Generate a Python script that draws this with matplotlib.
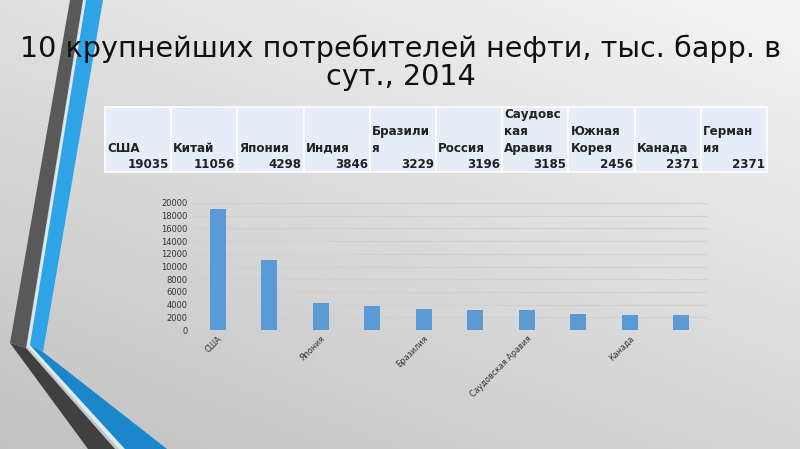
import matplotlib.pyplot as plt
import matplotlib.patches as mpatches
import numpy as np

# data
countries = ['США', 'Китай', 'Япония', 'Индия', 'Бразилия', 'Россия',
             'Саудовская Аравия', 'Южная Корея', 'Канада', 'Германия']
values = [19035, 11056, 4298, 3846, 3229, 3196, 3185, 2456, 2371, 2371]
# how the names wrap inside the table header cells
table_labels = ['США', 'Китай', 'Япония', 'Индия', 'Бразили\nя', 'Россия',
                'Саудовс\nкая\nАравия', 'Южная\nКорея', 'Канада', 'Герман\nия']
yticks = list(range(0, 20001, 2000))
title = '10 крупнейших потребителей нефти, тыс. барр. в\nсут., 2014'

W, H = 800, 449
fig = plt.figure(figsize=(W / 100, H / 100), dpi=100)

# slide background, pixel coordinates (y down)
bg = fig.add_axes([0, 0, 1, 1])
bg.set_xlim(0, W)
bg.set_ylim(H, 0)
bg.axis('off')
xx, yy = np.meshgrid(np.linspace(0, 1, 200), np.linspace(0, 1, 120))
shade = 0.76 + 0.08 * xx + 0.12 * (1 - yy)
img = np.dstack([shade, shade, shade * 1.005])
bg.imshow(np.clip(img, 0, 1), extent=[0, W, H, 0], aspect='auto', zorder=0)

# decorative bands on the left
shapes = [
    ([(70, 0), (83, 0), (26, 348), (10, 343)], '#595959'),
    ([(10, 343), (26, 348), (115, 449), (88, 449)], '#404040'),
    ([(84, 0), (86, 0), (30, 345), (27, 346)], '#d8ecf6'),
    ([(86, 0), (103, 0), (43, 352), (30, 345)], '#2ea3e6'),
    ([(27, 346), (30, 345), (125, 449), (119, 449)], '#dcecf4'),
    ([(30, 345), (43, 352), (167, 449), (125, 449)], '#1b87cb'),
]
for pts, col in shapes:
    bg.add_patch(mpatches.Polygon(pts, closed=True, color=col, lw=0, zorder=1))

bg.text(401, 85, title, ha='center', va='baseline', fontsize=20.6,
        color='#111111', linespacing=1.0, zorder=3)

# table above the chart
x0, cw = 105, 66.2
for i in range(len(countries)):
    cx = x0 + i * cw
    bg.add_patch(mpatches.Rectangle((cx, 107), cw, 65, facecolor='#e5edf8',
                                    edgecolor='white', lw=1.2, zorder=2))
    bg.text(cx + 2, 155, table_labels[i], ha='left', va='bottom', fontsize=8.6,
            fontweight='bold', color='#222222', linespacing=1.4, zorder=3)
    bg.text(cx + cw - 2, 164, str(values[i]), ha='right', va='center',
            fontsize=8.6, fontweight='bold', color='#222222', zorder=3)

# bar chart
ax = fig.add_axes([192 / W, 1 - 330 / H, 515 / W, 127 / H])
ax.patch.set_alpha(0)
x = np.arange(len(countries))
ax.bar(x, values, width=0.31, color='#5b9bd5', zorder=3)
ax.set_xlim(-0.5, len(countries) - 0.5)
ax.set_ylim(0, 20000)
ax.set_yticks(yticks)
ax.set_yticklabels([str(v) for v in yticks], fontsize=6, color='#333333')
ax.set_xticks(x[::2])
ax.set_xticklabels(countries[::2], rotation=45, ha='right',
                   rotation_mode='anchor', fontsize=5.8, color='#333333')
ax.tick_params(length=0, pad=3)
ax.grid(axis='y', color='#d0d0d0', lw=0.8, zorder=0)
for s in ax.spines.values():
    s.set_visible(False)

fig.savefig('out.png', dpi=100)
